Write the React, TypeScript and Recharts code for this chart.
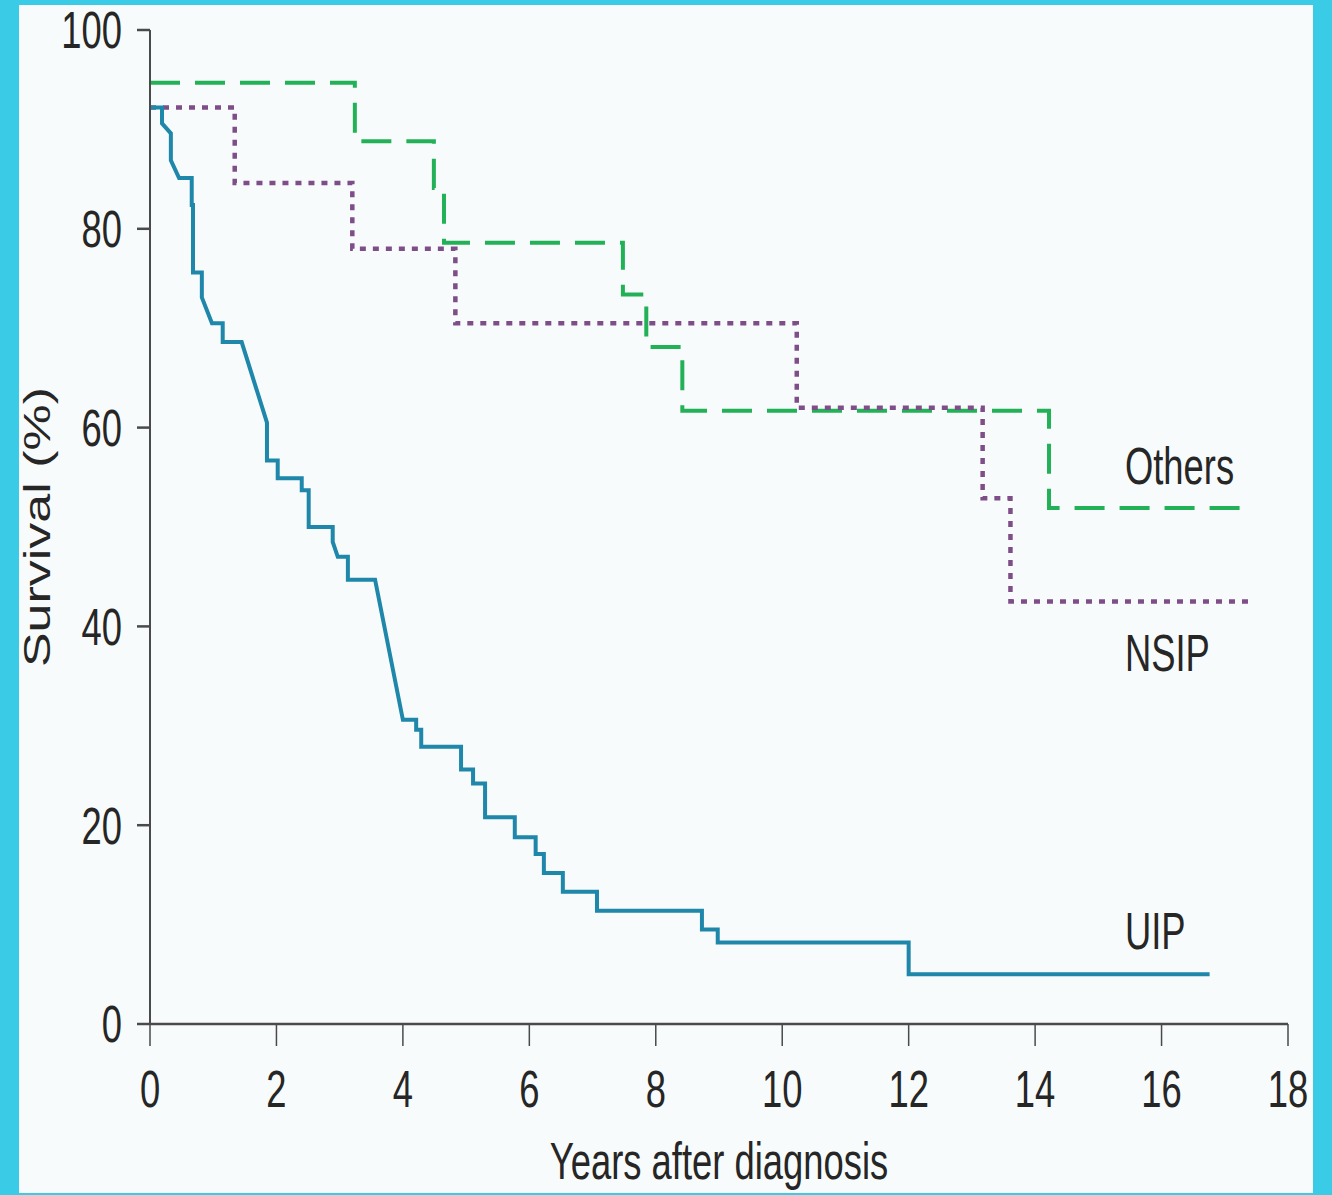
import React from 'react';
import { LineChart, Line, XAxis, YAxis, ReferenceDot } from 'recharts';

// Kaplan-Meier survival (%) by histologic pattern, time in years after diagnosis
const othersSteps = [
  { t: 0, s: 94.7 },
  { t: 3.24, s: 88.8 },
  { t: 4.49, s: 84.1 },
  { t: 4.65, s: 78.6 },
  { t: 7.48, s: 73.4 },
  { t: 7.85, s: 68.1 },
  { t: 8.42, s: 61.7 },
  { t: 14.22, s: 51.9 },
  { t: 17.47, s: 51.9 },
];

const nsipSteps = [
  { t: 0, s: 92.2 },
  { t: 1.34, s: 84.6 },
  { t: 3.2, s: 78.0 },
  { t: 4.83, s: 70.5 },
  { t: 10.23, s: 62.0 },
  { t: 13.17, s: 52.9 },
  { t: 13.61, s: 42.5 },
  { t: 17.47, s: 42.5 },
];

// UIP curve vertices (dense early deaths drawn as slanted runs)
const uipPath = [
  { t: 0, s: 92.2 }, { t: 0.19, s: 92.2 }, { t: 0.19, s: 90.6 }, { t: 0.33, s: 89.6 },
  { t: 0.33, s: 86.9 }, { t: 0.46, s: 85.1 }, { t: 0.66, s: 85.1 }, { t: 0.66, s: 82.4 },
  { t: 0.68, s: 82.4 }, { t: 0.68, s: 75.6 }, { t: 0.82, s: 75.6 }, { t: 0.82, s: 73.1 },
  { t: 0.98, s: 70.5 }, { t: 1.15, s: 70.5 }, { t: 1.15, s: 68.6 }, { t: 1.45, s: 68.6 },
  { t: 1.85, s: 60.5 }, { t: 1.85, s: 56.7 }, { t: 2.02, s: 56.7 }, { t: 2.02, s: 54.9 },
  { t: 2.4, s: 54.9 }, { t: 2.4, s: 53.7 }, { t: 2.51, s: 53.7 }, { t: 2.51, s: 50.0 },
  { t: 2.89, s: 50.0 }, { t: 2.89, s: 48.5 }, { t: 2.97, s: 47.0 }, { t: 3.13, s: 47.0 },
  { t: 3.13, s: 44.7 }, { t: 3.56, s: 44.7 }, { t: 4.0, s: 30.6 }, { t: 4.21, s: 30.6 },
  { t: 4.21, s: 29.6 }, { t: 4.29, s: 29.6 }, { t: 4.29, s: 27.9 }, { t: 4.92, s: 27.9 },
  { t: 4.92, s: 25.6 }, { t: 5.11, s: 25.6 }, { t: 5.11, s: 24.2 }, { t: 5.3, s: 24.2 },
  { t: 5.3, s: 20.8 }, { t: 5.77, s: 20.8 }, { t: 5.77, s: 18.8 }, { t: 6.1, s: 18.8 },
  { t: 6.1, s: 17.1 }, { t: 6.23, s: 17.1 }, { t: 6.23, s: 15.2 }, { t: 6.53, s: 15.2 },
  { t: 6.53, s: 13.3 }, { t: 7.07, s: 13.3 }, { t: 7.07, s: 11.4 }, { t: 8.73, s: 11.4 },
  { t: 8.73, s: 9.5 }, { t: 8.98, s: 9.5 }, { t: 8.98, s: 8.2 }, { t: 12.0, s: 8.2 },
  { t: 12.0, s: 5.0 }, { t: 16.76, s: 5.0 },
];

const xTicks = [0, 2, 4, 6, 8, 10, 12, 14, 16, 18];
const yTicks = [0, 20, 40, 60, 80, 100];

// curve names and where their labels sit (data units)
const seriesLabels = [
  { name: 'Others', t: 15.42, s: 54.3 },
  { name: 'NSIP', t: 15.42, s: 35.5 },
  { name: 'UIP', t: 15.42, s: 7.5 },
];

const FONT = '"Liberation Sans", Arial, Helvetica, sans-serif';
const INK = '#262626';
const AXIS = '#4a4a4a';
const SQUEEZE = 0.7;

function YTick({ x, y, payload }: any) {
  return (
    <text
      transform={`translate(${x},${y}) scale(${SQUEEZE},1)`}
      textAnchor="end"
      dy="0.355em"
      fontFamily={FONT}
      fontSize={52}
      fill={INK}
    >
      {payload.value}
    </text>
  );
}

function XTick({ x, y, payload }: any) {
  return (
    <text
      transform={`translate(${x},${y}) scale(${SQUEEZE},1)`}
      textAnchor="middle"
      dy="0.71em"
      fontFamily={FONT}
      fontSize={52}
      fill={INK}
    >
      {payload.value}
    </text>
  );
}

function XTitle({ viewBox }: any) {
  const { x, y, width } = viewBox;
  return (
    <text
      transform={`translate(${x + width / 2},${y + 155}) scale(${SQUEEZE},1)`}
      textAnchor="middle"
      fontFamily={FONT}
      fontSize={52}
      fill={INK}
    >
      Years after diagnosis
    </text>
  );
}

function YTitle({ viewBox }: any) {
  const { y, height } = viewBox;
  return (
    <text
      transform={`translate(50,${y + height / 2}) rotate(-90) scale(1,${SQUEEZE})`}
      textAnchor="middle"
      fontFamily={FONT}
      fontSize={52}
      fill={INK}
    >
      Survival (%)
    </text>
  );
}

function CurveName({ viewBox, value }: any) {
  return (
    <text
      transform={`translate(${viewBox.x},${viewBox.y}) scale(${SQUEEZE},1)`}
      textAnchor="start"
      fontFamily={FONT}
      fontSize={52}
      fill={INK}
    >
      {value}
    </text>
  );
}

export default function App() {
  return (
    <div
      style={{
        position: 'absolute',
        left: 0,
        top: 0,
        width: 1332,
        height: 1195,
        background: '#3acce6',
      }}
    >
      <div
        style={{
          position: 'absolute',
          left: 19,
          top: 5,
          width: 1294,
          height: 1188,
          background: '#f8fbfb',
        }}
      />
      <div style={{ position: 'absolute', left: 0, top: 0 }}>
        <LineChart width={1332} height={1195} margin={{ top: 30, right: 44, bottom: 0, left: 0 }}>
          <XAxis
            type="number"
            dataKey="t"
            domain={[0, 18]}
            ticks={xTicks}
            interval={0}
            height={171}
            tickSize={22}
            tickMargin={24}
            tick={<XTick />}
            axisLine={{ stroke: AXIS, strokeWidth: 2.5 }}
            tickLine={{ stroke: AXIS, strokeWidth: 1.5 }}
            label={{ content: <XTitle /> }}
          />
          <YAxis
            type="number"
            domain={[0, 100]}
            ticks={yTicks}
            interval={0}
            width={150}
            tickSize={13}
            tickMargin={15}
            tick={<YTick />}
            axisLine={{ stroke: AXIS, strokeWidth: 2 }}
            tickLine={{ stroke: AXIS, strokeWidth: 2.5 }}
            label={{ content: <YTitle /> }}
          />
          <Line
            data={othersSteps}
            dataKey="s"
            type="stepAfter"
            stroke="#22b157"
            strokeWidth={4}
            strokeDasharray="30 15"
            dot={false}
            activeDot={false}
            isAnimationActive={false}
          />
          <Line
            data={nsipSteps}
            dataKey="s"
            type="stepAfter"
            stroke="#7d4e88"
            strokeWidth={4.5}
            strokeDasharray="6 7"
            dot={false}
            activeDot={false}
            isAnimationActive={false}
          />
          <Line
            data={uipPath}
            dataKey="s"
            type="linear"
            stroke="#1e87aa"
            strokeWidth={4}
            dot={false}
            activeDot={false}
            isAnimationActive={false}
          />
          {seriesLabels.map((l) => (
            <ReferenceDot
              key={l.name}
              x={l.t}
              y={l.s}
              r={0}
              fill="none"
              stroke="none"
              label={{ value: l.name, content: <CurveName /> }}
            />
          ))}
        </LineChart>
      </div>
    </div>
  );
}
